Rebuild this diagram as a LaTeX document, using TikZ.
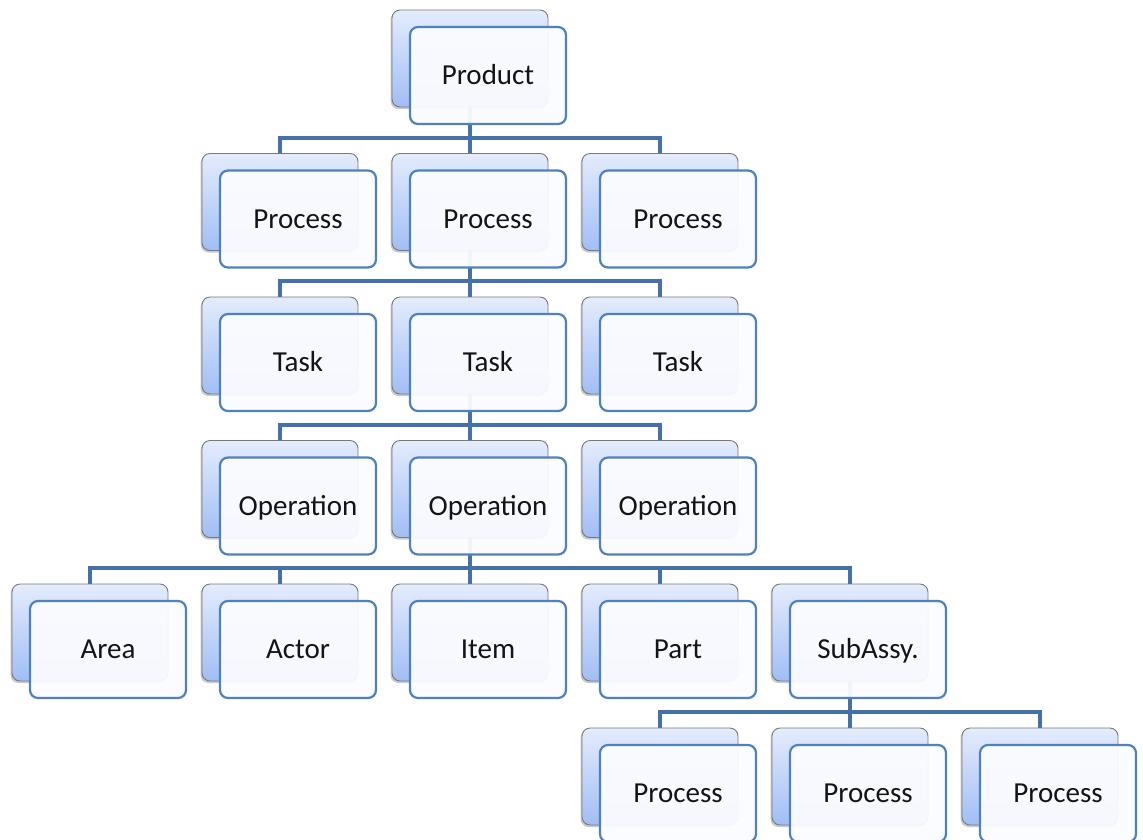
\documentclass[tikz,border=0pt]{standalone}
\usepackage{fontspec}
\setmainfont{Carlito}
\usetikzlibrary{calc,shadows}
\definecolor{connblue}{RGB}{68,112,172}
\definecolor{frameblue}{RGB}{79,129,189}
\definecolor{cardfill}{RGB}{251,252,255}
\definecolor{backtop}{RGB}{228,236,252}
\definecolor{backbot}{RGB}{160,190,245}
\definecolor{backline}{RGB}{120,120,125}
\definecolor{inktext}{RGB}{20,20,20}
\pgfdeclarelayer{background}
\pgfsetlayers{background,main}
\tikzset{
  backbox/.style={rectangle, rounded corners=8pt, minimum width=156pt,
    minimum height=97pt, inner sep=0pt, draw=backline, line width=0.9pt,
    top color=backtop, bottom color=backbot,
    drop shadow={shadow xshift=-1.5pt, shadow yshift=-2pt, opacity=0.35, fill=black!60}},
  frontbox/.style={rectangle, rounded corners=8pt, minimum width=156pt,
    minimum height=97pt, inner sep=0pt, draw=frameblue, line width=2.2pt,
    fill=cardfill, fill opacity=0.94, text opacity=1, text=inktext,
    font=\fontsize{29}{33}\selectfont, text height=18.5pt, text depth=0pt},
  connector/.style={draw=connblue, line width=4pt},
}
% one stacked card: shaded card behind, outlined card in front
\newcommand\card[4]{%
  \node[backbox] (#1B) at (#2-18,#3-17) {};
  \node[frontbox] (#1) at (#2,#3) {#4};
}
% elbow connector between the rear cards of parent and child
\newcommand\link[2]{%
  \draw[connector] (#1B) |- ($(#2B.north)+(0,-15.5)$) -- (#2B.north);
}
\begin{document}
\begin{tikzpicture}[x=1pt,y=-1pt]
\useasboundingbox (0,0) rectangle (1143,839);
\card{prod}{488}{75.5}{Product}
\card{pa}{298}{219}{Process}
\card{pb}{488}{219}{Process}
\card{pc}{678}{219}{Process}
\card{ta}{298}{362.5}{Task}
\card{tb}{488}{362.5}{Task}
\card{tc}{678}{362.5}{Task}
\card{oa}{298}{506}{Operation}
\card{ob}{488}{506}{Operation}
\card{oc}{678}{506}{Operation}
\card{area}{108}{649.5}{Area}
\card{actor}{298}{649.5}{Actor}
\card{item}{488}{649.5}{Item}
\card{part}{678}{649.5}{Part}
\card{sub}{868}{649.5}{SubAssy.}
\card{sa}{678}{793.5}{Process}
\card{sb}{868}{793.5}{Process}
\card{sc}{1058}{793.5}{Process}
\begin{pgfonlayer}{background}
  \link{prod}{pa}\link{prod}{pb}\link{prod}{pc}
  \link{pb}{ta}\link{pb}{tb}\link{pb}{tc}
  \link{tb}{oa}\link{tb}{ob}\link{tb}{oc}
  \link{ob}{area}\link{ob}{actor}\link{ob}{item}\link{ob}{part}\link{ob}{sub}
  \link{sub}{sa}\link{sub}{sb}\link{sub}{sc}
\end{pgfonlayer}
\end{tikzpicture}
\end{document}
